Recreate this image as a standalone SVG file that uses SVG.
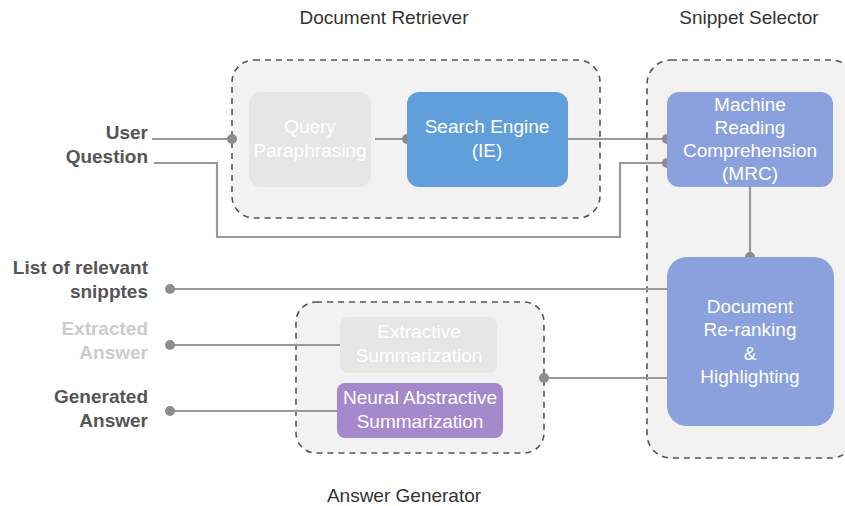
<svg xmlns="http://www.w3.org/2000/svg" width="845" height="506" viewBox="0 0 845 506">
<style>
text{font-family:"Liberation Sans",Arial,sans-serif;font-size:19px}
.t{fill:#333;text-anchor:middle}
.l{font-weight:bold;fill:#555;text-anchor:end}
.lg{font-weight:bold;fill:#ccc;text-anchor:end}
.n{fill:#fff;text-anchor:middle}
.grp{fill:#f2f2f2;stroke:#555;stroke-width:1.6;stroke-dasharray:6 5}
.c{fill:none;stroke:#999;stroke-width:2.2}
.d{fill:#8c8c8c}
</style>
<rect width="845" height="506" fill="#fff"/>
<g id="document-retriever">
<rect class="grp" x="232" y="60" width="368" height="158" rx="22"/>
<text class="t" x="384" y="24">Document Retriever</text>
</g>
<g id="snippet-selector">
<rect class="grp" x="647" y="60" width="208" height="398" rx="24"/>
<text class="t" x="749" y="24">Snippet Selector</text>
</g>
<g id="answer-generator">
<rect class="grp" x="296" y="302" width="248" height="151" rx="20"/>
<text class="t" x="404" y="502">Answer Generator</text>
</g>
<g id="connectors">
<path class="c" d="M152 139H232M375 139H407M568 139H667"/>
<path class="c" d="M154 163H217V237H620V163H667"/>
<path class="c" d="M750 187V257"/>
<path class="c" d="M170 289H667"/>
<path class="c" d="M170 345H340"/>
<path class="c" d="M170 411H337"/>
<path class="c" d="M544 378H667"/>
<circle class="d" cx="232" cy="139" r="5"/>
<circle class="d" cx="407" cy="139" r="5"/>
<circle class="d" cx="667" cy="139" r="5"/>
<circle class="d" cx="667" cy="163" r="5"/>
<circle class="d" cx="750" cy="257" r="5"/>
<circle class="d" cx="170" cy="289" r="5"/>
<circle class="d" cx="170" cy="345" r="5"/>
<circle class="d" cx="170" cy="411" r="5"/>
<circle class="d" cx="544" cy="378" r="5"/>
</g>
<g id="query-paraphrasing">
<rect x="249" y="92" width="122" height="95" rx="12" fill="#e6e6e6"/>
<text class="n" x="310" y="133">Query</text>
<text class="n" x="310" y="157">Paraphrasing</text>
</g>
<g id="search-engine">
<rect x="407" y="92" width="161" height="95" rx="12" fill="#619fdc"/>
<text class="n" x="487" y="133">Search Engine</text>
<text class="n" x="487" y="157">(IE)</text>
</g>
<g id="mrc">
<rect x="667" y="92" width="166" height="95" rx="12" fill="#8aa1de"/>
<text class="n" x="750" y="111">Machine</text>
<text class="n" x="750" y="134">Reading</text>
<text class="n" x="750" y="157">Comprehension</text>
<text class="n" x="750" y="180">(MRC)</text>
</g>
<g id="document-reranking">
<rect x="667" y="257" width="167" height="169" rx="20" fill="#8aa1de"/>
<text class="n" x="750" y="313">Document</text>
<text class="n" x="750" y="336">Re-ranking</text>
<text class="n" x="750" y="360">&amp;</text>
<text class="n" x="750" y="383">Highlighting</text>
</g>
<g id="extractive-summarization">
<rect x="340" y="317" width="157" height="56" rx="8" fill="#e6e6e6"/>
<text class="n" x="419" y="338">Extractive</text>
<text class="n" x="419" y="362">Summarization</text>
</g>
<g id="neural-abstractive-summarization">
<rect x="337" y="383" width="166" height="55" rx="8" fill="#a688cc"/>
<text class="n" x="420" y="404">Neural Abstractive</text>
<text class="n" x="420" y="428">Summarization</text>
</g>
<g id="labels">
<text class="l" x="148" y="139">User</text>
<text class="l" x="148" y="163">Question</text>
<text class="l" x="148" y="274">List of relevant</text>
<text class="l" x="148" y="298">snipptes</text>
<text class="lg" x="148" y="335">Extracted</text>
<text class="lg" x="148" y="359">Answer</text>
<text class="l" x="148" y="403">Generated</text>
<text class="l" x="148" y="427">Answer</text>
</g>
</svg>
